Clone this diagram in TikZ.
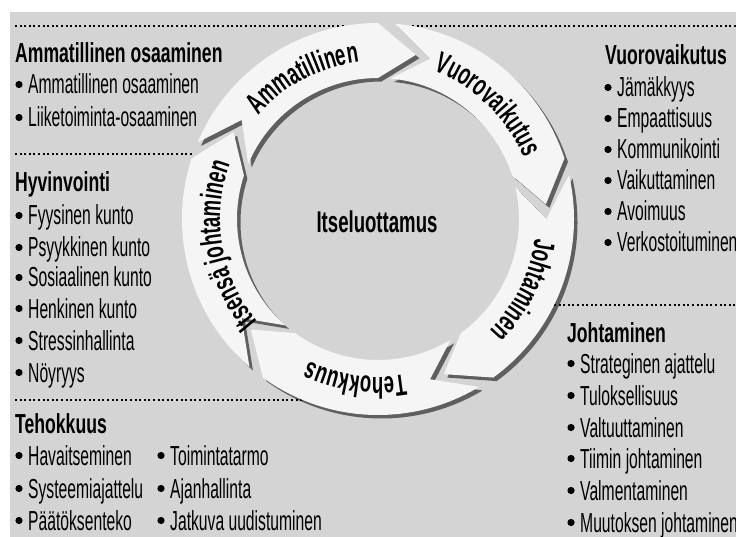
\documentclass[tikz,border=0pt]{standalone}
\usepackage{fontspec}
\usetikzlibrary{decorations.text,shadows}
\newfontfamily\bodyfont{Liberation Sans}[FakeStretch=0.57]
\newfontfamily\headfont{Liberation Sans}[FakeStretch=0.64]
\newfontfamily\ringfont{Liberation Sans}[FakeStretch=0.62]
\definecolor{bggray}{gray}{0.83}
\definecolor{arrowwhite}{gray}{0.96}
\newcommand\ditem[4]{\fill ({#2+4},{-#3+9.5}) circle[radius=3.6];
  \node[itemtext] (#1) at ({#2+13},{-#3}) {#4};}
\newcommand\dhead[4]{\node[headtext] (#1) at (#2,{-#3}) {#4};}
\newcommand\ringseg[1]{%
  \pgfmathsetmacro\rsT{#1+80}\pgfmathsetmacro\rsB{#1+13}\pgfmathsetmacro\rsN{#1+67}%
  \path[ringarrow] (\rsT:196) arc[start angle=\rsT,end angle=\rsB,radius=196]
    -- (#1:168.5) -- (\rsB:141) arc[start angle=\rsB,end angle=\rsT,radius=141]
    -- (\rsN:168.5) -- cycle;}
\newcommand\ringtext[2]{%
  \pgfmathsetmacro\rsS{#1+79}\pgfmathsetmacro\rsE{#1+3}%
  \path[decorate,decoration={text along path,text align=center,
    text={|\ringfont\bfseries\fontsize{30}{30}\selectfont|#2}}]
    (\rsS:158) arc[start angle=\rsS,end angle=\rsE,radius=158];}
\begin{document}
\begin{tikzpicture}[x=1pt,y=1pt,
  itemtext/.style={anchor=base west,inner sep=0pt,font=\bodyfont\fontsize{27.5}{27.5}\selectfont},
  headtext/.style={anchor=base west,inner sep=0pt,font=\headfont\bfseries\fontsize{27.5}{27.5}\selectfont},
  dotline/.style={line width=2pt,dash pattern=on 2pt off 2.6pt,black},
  ringarrow/.style={fill=arrowwhite,drop shadow={shadow xshift=3.5pt,shadow yshift=-3.5pt,fill=black,opacity=0.55}},
]
\useasboundingbox (0,0) rectangle (736,-537);
\fill[white] (0,0) rectangle (736,-537);
\fill[bggray] (10,-12) rectangle (736,-537);
% dotted separators
\draw[dotline] (15,-26) -- (344,-26);
\draw[dotline] (412,-26) -- (736,-26);
\draw[dotline] (15,-154) -- (193,-154);
\draw[dotline] (15,-400) -- (303,-400);
\draw[dotline] (554,-305) -- (736,-305);
% left texts
\dhead{h1}{15}{63}{Ammatillinen osaaminen}
\ditem{a1}{15}{94}{Ammatillinen osaaminen}
\ditem{a2}{15}{127}{Liiketoiminta-osaaminen}
\dhead{h2}{15}{192}{Hyvinvointi}
\ditem{b1}{15}{225}{Fyysinen kunto}
\ditem{b2}{15}{257}{Psyykkinen kunto}
\ditem{b3}{15}{287}{Sosiaalinen kunto}
\ditem{b4}{15}{318}{Henkinen kunto}
\ditem{b5}{15}{350}{Stressinhallinta}
\ditem{b6}{15}{382}{Nöyryys}
\dhead{h3}{15}{433}{Tehokkuus}
\ditem{c1}{15}{465}{Havaitseminen}
\ditem{c2}{15}{498}{Systeemiajattelu}
\ditem{c3}{15}{530}{Päätöksenteko}
\ditem{c4}{157}{465}{Toimintatarmo}
\ditem{c5}{157}{498}{Ajanhallinta}
\ditem{c6}{157}{530}{Jatkuva uudistuminen}
% right texts
\dhead{h4}{605}{65}{Vuorovaikutus}
\ditem{d1}{604}{97}{Jämäkkyys}
\ditem{d2}{604}{128}{Empaattisuus}
\ditem{d3}{604}{159}{Kommunikointi}
\ditem{d4}{604}{190}{Vaikuttaminen}
\ditem{d5}{604}{221}{Avoimuus}
\ditem{d6}{604}{252}{Verkostoituminen}
\dhead{h5}{567}{342}{Johtaminen}
\ditem{e1}{567}{373}{Strateginen ajattelu}
\ditem{e2}{567}{405}{Tuloksellisuus}
\ditem{e3}{567}{437}{Valtuuttaminen}
\ditem{e4}{567}{468}{Tiimin johtaminen}
\ditem{e5}{567}{500}{Valmentaminen}
\ditem{e6}{567}{532}{Muutoksen johtaminen}
% ring
\begin{scope}[shift={(378,-219)}]
\ringseg{149}
\ringseg{77}
\ringseg{5}
\ringseg{-67}
\ringseg{-139}
\ringtext{149}{Itsensä johtaminen}
\ringtext{77}{Ammatillinen}
\ringtext{5}{Vuorovaikutus}
\ringtext{-67}{Johtaminen}
\ringtext{-139}{Tehokkuus}
\node[inner sep=0pt,font=\ringfont\bfseries\fontsize{30}{30}\selectfont] (center) at (-1,-3) {Itseluottamus};
\end{scope}
\end{tikzpicture}
\end{document}
